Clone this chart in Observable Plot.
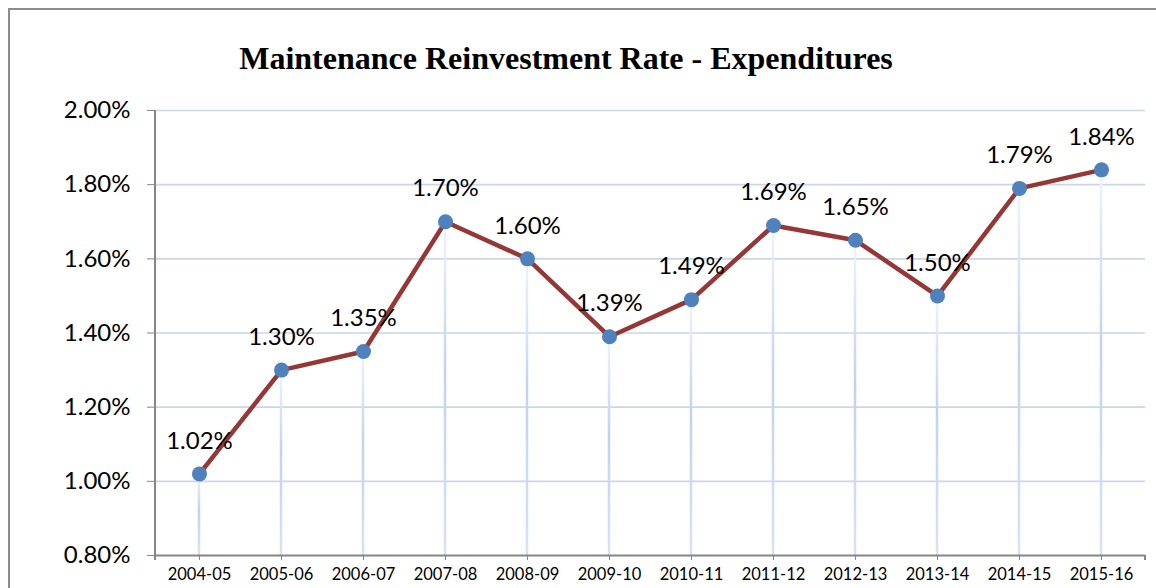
<!DOCTYPE html>
<html>
<head>
<meta charset="utf-8">
<script src="https://cdn.jsdelivr.net/npm/d3@7"></script>
<script src="https://cdn.jsdelivr.net/npm/@observablehq/plot@0.6"></script>
<style>
  html, body { margin: 0; padding: 0; background: #fff; overflow: hidden; }
  #wrap { position: relative; width: 1156px; height: 588px; }
  #frame { position: absolute; left: 8px; top: 8px; width: 1200px; height: 700px; border: 2px solid #8c8c8c; box-sizing: border-box; }
  #title { position: absolute; left: 0; width: 1132px; top: 39px; text-align: center;
           font-family: "Liberation Serif", "Times New Roman", serif; font-weight: bold; font-size: 32px; line-height: 38px; color: #000; }
  #chart { position: absolute; left: 0; top: 0; }
</style>
</head>
<body>
<div id="wrap">
  <div id="frame"></div>
  <div id="chart"></div>
  <div id="title">Maintenance Reinvestment Rate - Expenditures</div>
</div>
<script>
const years = ["2004-05","2005-06","2006-07","2007-08","2008-09","2009-10","2010-11","2011-12","2012-13","2013-14","2014-15","2015-16"];
const rates = [1.02, 1.30, 1.35, 1.70, 1.60, 1.39, 1.49, 1.69, 1.65, 1.50, 1.79, 1.84];
const yTicks = [0.8, 1.0, 1.2, 1.4, 1.6, 1.8, 2.0];
const yMin = 0.8, yMax = 2.0;

const data = years.map((y, i) => ({year: y, rate: rates[i]}));
const fmt = d => d.toFixed(2) + "%";
const font = "Lato, 'Open Sans', sans-serif";

const W = 1156, H = 588;
const step = (W - 155 - 11) / years.length;

const plot = Plot.plot({
  width: W,
  height: H,
  marginTop: 110,
  marginBottom: 33,
  marginLeft: 155,
  marginRight: 11,
  style: {fontFamily: font, background: "transparent", overflow: "visible"},
  x: {type: "band", domain: years, padding: 0, axis: null, label: null},
  y: {domain: [yMin, yMax], axis: null, label: null},
  marks: [
    () => {
      const ns = "http://www.w3.org/2000/svg";
      const defs = document.createElementNS(ns, "defs");
      const g = document.createElementNS(ns, "linearGradient");
      g.setAttribute("id", "dropGrad");
      g.setAttribute("x1", "0"); g.setAttribute("y1", "0");
      g.setAttribute("x2", "0"); g.setAttribute("y2", "1");
      [["0%", "#f0f4fb"], ["45%", "#c2d2ee"], ["100%", "#d8e2f3"]].forEach(([o, c]) => {
        const s = document.createElementNS(ns, "stop");
        s.setAttribute("offset", o); s.setAttribute("stop-color", c);
        g.appendChild(s);
      });
      defs.appendChild(g);
      return defs;
    },
    Plot.ruleY(yTicks.filter(t => t > yMin), {stroke: "#c9d6ec", strokeWidth: 1.6}),
    Plot.barY(data, {x: "year", y1: yMin, y2: "rate", fill: "url(#dropGrad)",
      insetLeft: (step - 3) / 2, insetRight: (step - 3) / 2}),
    Plot.ruleY([yMin], {stroke: "#868686", strokeWidth: 2}),
    Plot.axisY({ticks: yTicks, tickFormat: fmt, tickSize: 8, tickPadding: 17, label: null,
      fontSize: 24, stroke: "#868686", fill: "#000"}),
    Plot.axisX({tickSize: 5, tickPadding: 8, fontSize: 16.5, label: null, stroke: "#868686", fill: "#000"}),
    Plot.line(data, {x: "year", y: "rate", stroke: "#953735", strokeWidth: 4.5}),
    Plot.dot(data, {x: "year", y: "rate", r: 7.5, fill: "#4f81bd", stroke: "none"}),
    Plot.text(data, {x: "year", y: "rate", text: d => fmt(d.rate), dy: -33,
      fontSize: 24, fill: "#000"})
  ]
});

// left axis line and end ticks, derived from the plot's own scales
const xr = plot.scale("x").range, yr = plot.scale("y").range;
const svg = d3.select(plot);
svg.append("line").attr("x1", xr[0]).attr("x2", xr[0]).attr("y1", yr[0]).attr("y2", yr[1])
  .attr("stroke", "#868686").attr("stroke-width", 2);
[xr[0], xr[1]].forEach(x => svg.append("line").attr("x1", x).attr("x2", x)
  .attr("y1", yr[0]).attr("y2", yr[0] + 5).attr("stroke", "#868686").attr("stroke-width", 2));

document.getElementById("chart").appendChild(plot);
</script>
</body>
</html>
